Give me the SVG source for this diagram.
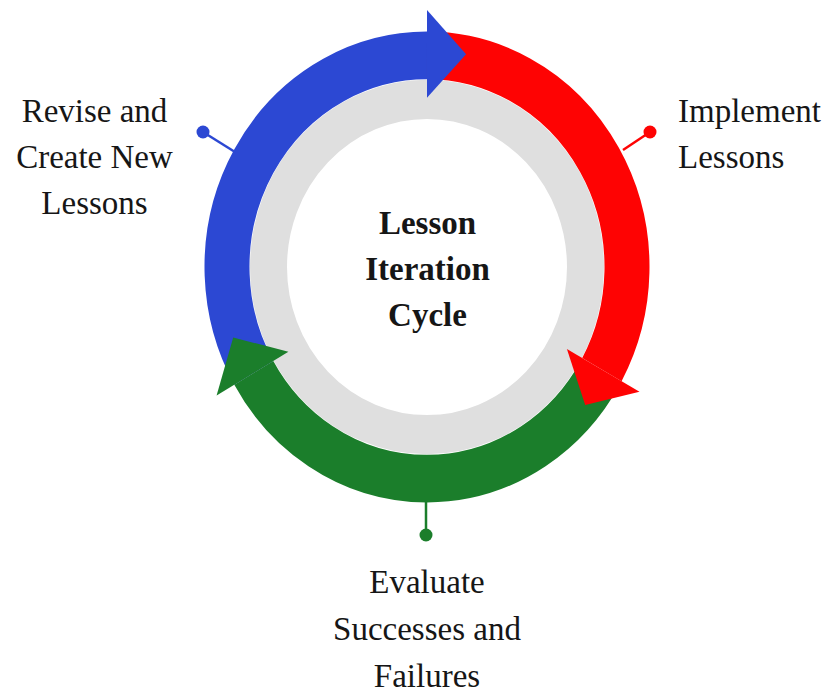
<svg xmlns="http://www.w3.org/2000/svg" width="826" height="693" viewBox="0 0 826 693">
  <style>
    .lbl { font-family: "Liberation Serif", "Times New Roman", serif; font-size: 33px; fill: #161616; }
    .ctr { font-family: "Liberation Serif", "Times New Roman", serif; font-size: 33px; font-weight: bold; fill: #161616; text-anchor: middle; }
    .band { fill: none; stroke-width: 45; stroke-linecap: butt; }
    .blue { stroke: #2c48d3; }
    .red { stroke: #fe0303; }
    .green { stroke: #1b7e2b; }
    .pin { stroke-width: 2.5; }
  </style>
  <rect width="826" height="693" fill="#ffffff"/>

  <g id="cycle" transform="translate(427,267) scale(1,1.058)">
    <circle id="ring" cx="0" cy="0" r="158.5" fill="none" stroke="#dfdfdf" stroke-width="37"/>
    <g id="bands">
      <path class="band blue" d="M -173.2 100 A 200 200 0 0 1 0 -200"/>
      <path class="band red" d="M 0 -200 A 200 200 0 0 1 174.9 97"/>
      <path class="band green" d="M 173.2 100 A 200 200 0 0 1 -173.2 100"/>
    </g>
    <g id="heads">
      <polygon fill="#2c48d3" points="0,-160 0,-243 39.1,-201.2"/>
      <polygon fill="#fe0303" points="139.9,77.6 212.5,117.8 158.2,130.4"/>
      <polygon fill="#1b7e2b" points="-138.6,80 -210.4,121.5 -193.8,66.7"/>
    </g>
  </g>

  <g id="connectors">
    <line class="pin" x1="235" y1="152" x2="203" y2="132" stroke="#2c48d3"/>
    <circle cx="203" cy="132" r="6.5" fill="#2c48d3"/>
    <line class="pin" x1="623" y1="150" x2="650" y2="132" stroke="#fe0303"/>
    <circle cx="650" cy="132" r="6.5" fill="#fe0303"/>
    <line class="pin" x1="426" y1="500" x2="426" y2="535" stroke="#1b7e2b"/>
    <circle cx="426" cy="535" r="6.5" fill="#1b7e2b"/>
  </g>

  <g id="center-label">
    <text class="ctr" x="427.5" y="234">Lesson</text>
    <text class="ctr" x="427.5" y="280">Iteration</text>
    <text class="ctr" x="427.5" y="326">Cycle</text>
  </g>

  <g id="node-revise">
    <text class="lbl" x="94.5" y="122" text-anchor="middle">Revise and</text>
    <text class="lbl" x="94.5" y="168" text-anchor="middle">Create New</text>
    <text class="lbl" x="94.5" y="214" text-anchor="middle">Lessons</text>
  </g>

  <g id="node-implement">
    <text class="lbl" x="678" y="122">Implement</text>
    <text class="lbl" x="678" y="168">Lessons</text>
  </g>

  <g id="node-evaluate">
    <text class="lbl" x="427" y="593" text-anchor="middle">Evaluate</text>
    <text class="lbl" x="427" y="640" text-anchor="middle">Successes and</text>
    <text class="lbl" x="427" y="687" text-anchor="middle">Failures</text>
  </g>
</svg>
